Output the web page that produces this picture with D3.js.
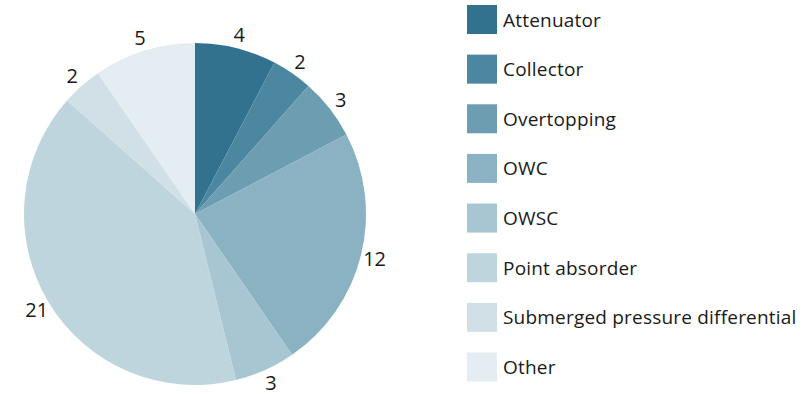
<!DOCTYPE html>
<html>
<head>
<meta charset="utf-8">
<script src="https://cdn.jsdelivr.net/npm/d3@7"></script>
<style>
  html, body { margin: 0; padding: 0; background: #fff; }
  svg { display: block; }
  text { font-family: "Open Sans", Roboto, sans-serif; fill: #1a1a1a; }
</style>
</head>
<body>
<svg id="chart" width="809" height="394"></svg>
<script>
// Wave energy converter types and their counts
const categories = ["Attenuator", "Collector", "Overtopping", "OWC", "OWSC",
                    "Point absorder", "Submerged pressure differential", "Other"];
const counts = [4, 2, 3, 12, 3, 21, 2, 5];
const colors = ["#33728f", "#4b87a0", "#6c9db1", "#8bb2c3", "#a7c6d2",
                "#bed5dd", "#d1e0e6", "#e4edf1"];

const svg = d3.select("#chart");
const cx = 195, cy = 214, radius = 171, labelRadius = 185;

const data = categories.map((c, i) => ({ name: c, value: counts[i] }));
const color = d3.scaleOrdinal().domain(categories).range(colors);

const pie = d3.pie().value(d => d.value).sort(null);
const arc = d3.arc().innerRadius(0).outerRadius(radius);
const labelArc = d3.arc().innerRadius(labelRadius).outerRadius(labelRadius);

const g = svg.append("g").attr("transform", `translate(${cx},${cy})`);
const arcs = pie(data);

g.selectAll("path.slice")
  .data(arcs)
  .join("path")
  .attr("class", "slice")
  .attr("d", arc)
  .attr("fill", d => color(d.data.name));

g.selectAll("text.value")
  .data(arcs)
  .join("text")
  .attr("class", "value")
  .attr("transform", d => `translate(${labelArc.centroid(d)})`)
  .attr("text-anchor", "middle")
  .attr("dominant-baseline", "central")
  .style("font-size", "20px")
  .text(d => d.data.value);

// Legend
const legendY = d3.scalePoint().domain(categories).range([19.5, 367]);
const legend = svg.append("g").attr("transform", "translate(467,0)");
const items = legend.selectAll("g.item")
  .data(categories)
  .join("g")
  .attr("class", "item")
  .attr("transform", d => `translate(0,${legendY(d)})`);

items.append("rect")
  .attr("x", 0).attr("y", -14.5)
  .attr("width", 30).attr("height", 29)
  .attr("fill", d => color(d));

items.append("text")
  .attr("x", 36)
  .attr("y", 0)
  .attr("dominant-baseline", "central")
  .style("font-size", "19px")
  .style("letter-spacing", "0.2px")
  .text(d => d);
</script>
</body>
</html>
